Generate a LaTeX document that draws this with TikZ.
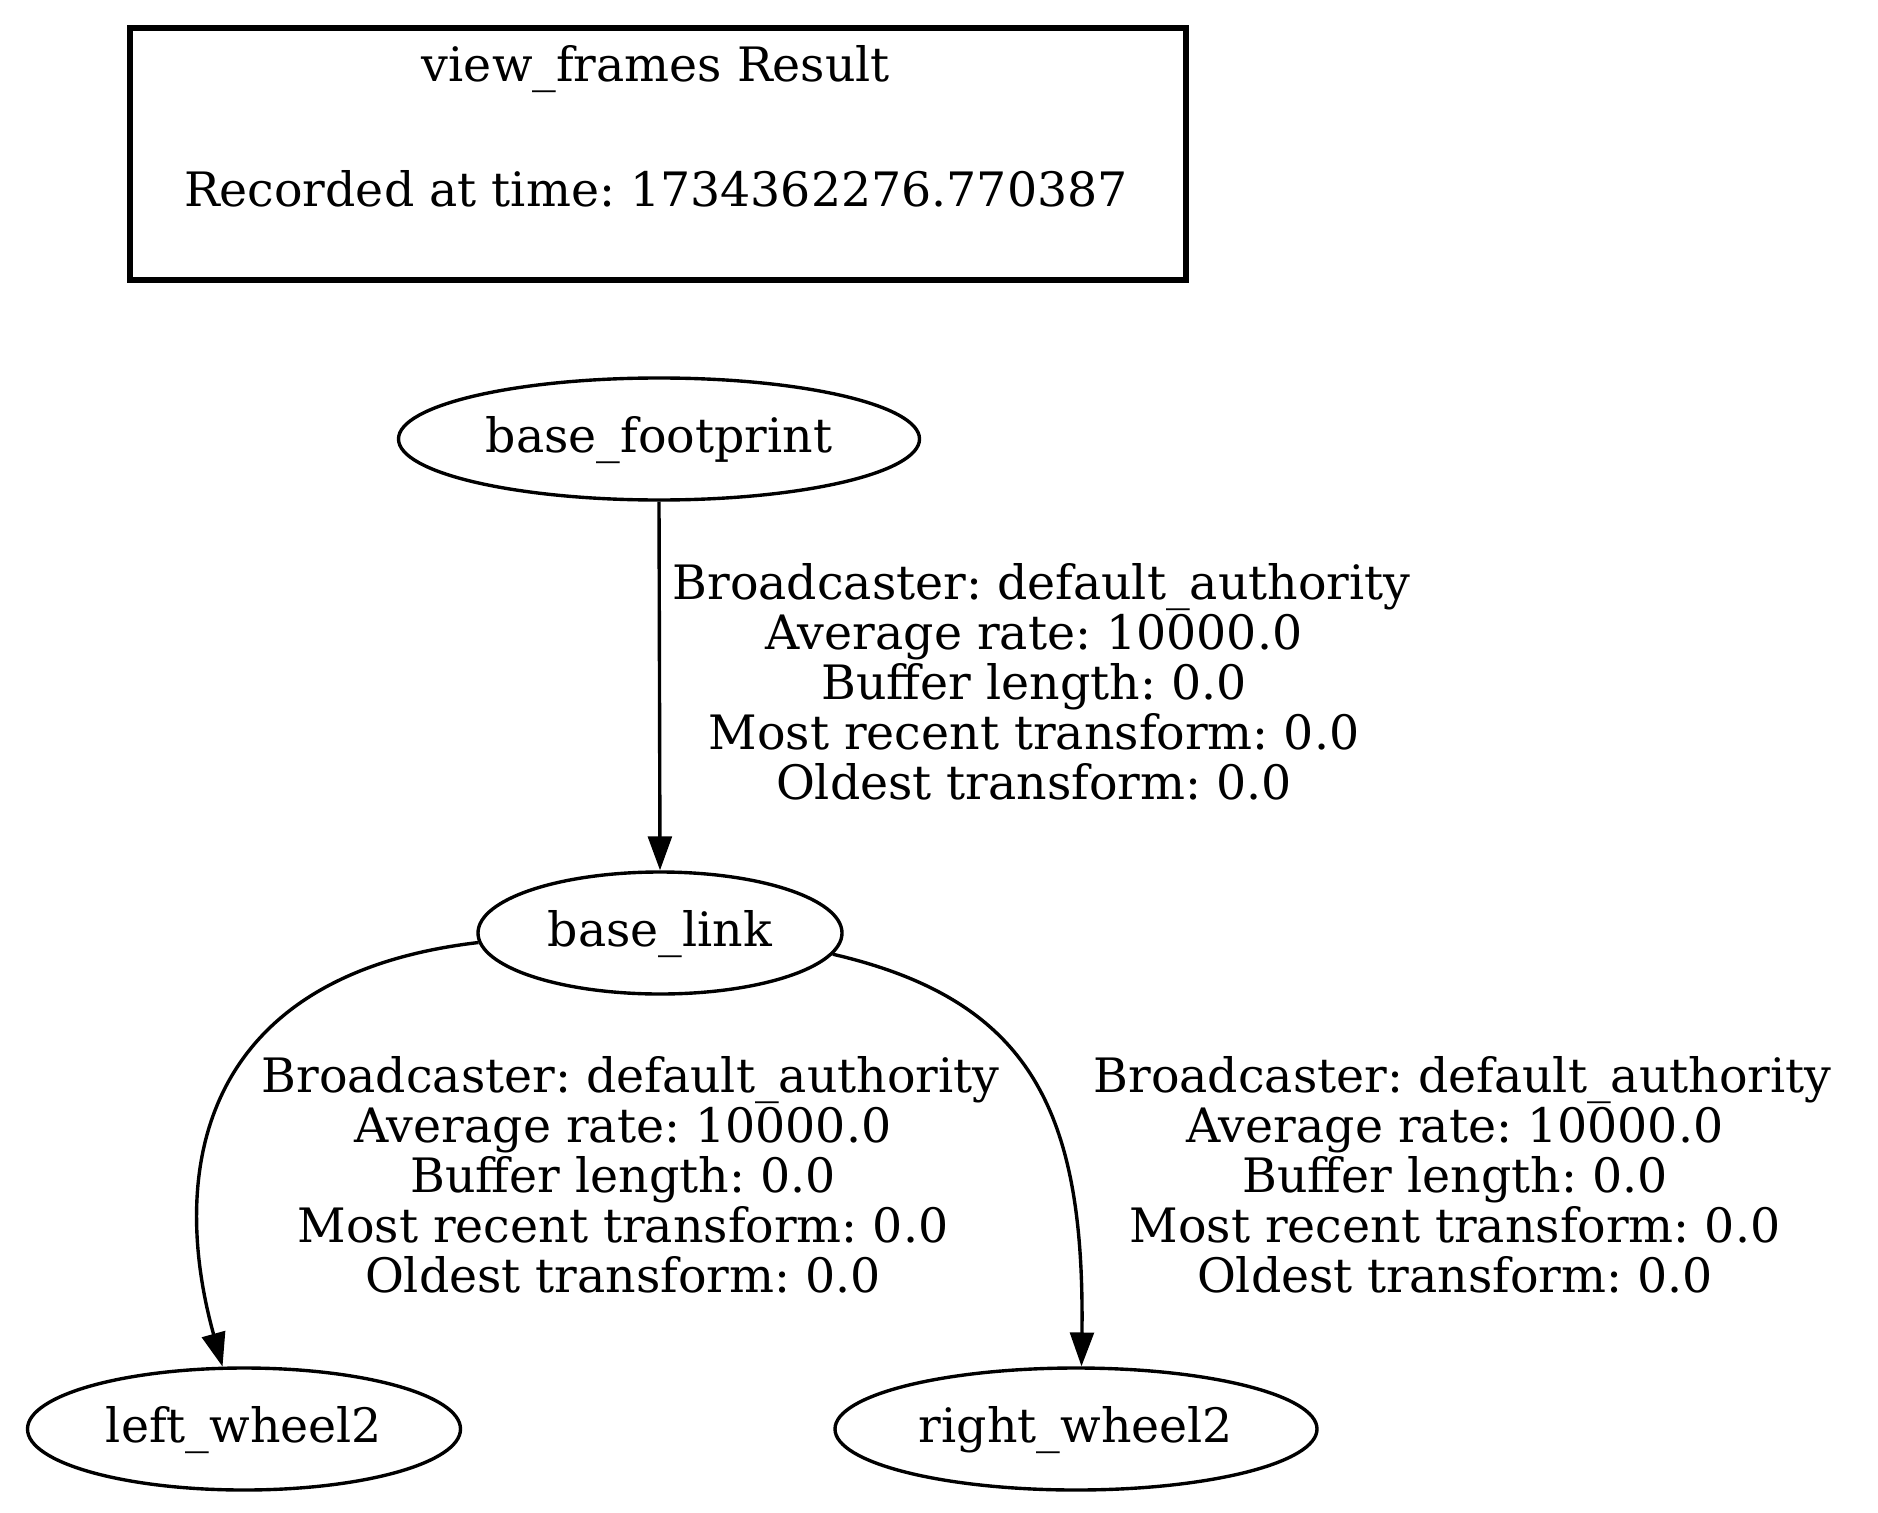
\documentclass[tikz,border=0pt]{standalone}
\usepackage{fontspec}
\setmainfont{DejaVu Serif}
\usetikzlibrary{arrows.meta,shapes.geometric}
\def\pxu{0.29526pt}
\frenchspacing
\begin{document}
\begin{tikzpicture}[x=0.29526pt,y=-0.29526pt,
  every node/.style={font=\frenchspacing\fontsize{14pt}{14.77pt}\selectfont},
  frame/.style={ellipse, draw, line width=1pt, inner sep=0pt, minimum height=122*\pxu, text height=10.6pt, text depth=2.6pt},
  edgelabel/.style={align=center, inner sep=0pt, anchor=north},
  tfedge/.style={draw, line width=1pt, -{Triangle[length=10pt,width=7pt]}},
]
\useasboundingbox (0,0) rectangle (1878,1512);
\node (legend) [draw, line width=2pt, minimum width=1056*\pxu, minimum height=252*\pxu, inner sep=0pt] at (658,154) {};
\node (title) [anchor=base] at (656,82) {view\_frames Result};
\node (rec) [anchor=base] at (656,207) {Recorded at time: 1734362276.770387};
\node (bf) [frame, minimum width=521*\pxu] at (659,439) {base\_footprint};
\node (bl) [frame, minimum width=364*\pxu] at (660,933) {base\_link};
\node (lw) [frame, minimum width=433*\pxu] at (244,1429) {left\_wheel2};
\node (rw) [frame, minimum width=482*\pxu] at (1076,1429) {right\_wheel2};
\draw[tfedge] (bf.south) -- (bl.north);
\draw[tfedge] (bl.183) .. controls (200,975) and (168,1170) .. (lw.109);
\draw[tfedge] (bl.353) .. controls (1030,1000) and (1085,1110) .. (rw.85);
\node (lab1) [edgelabel] at (1034,563) {\mbox{\ }Broadcaster: default\_authority\\Average rate: 10000.0\\Buffer length: 0.0\\Most recent transform: 0.0\\Oldest transform: 0.0};
\node (lab2) [edgelabel] at (623,1056) {\mbox{\ }Broadcaster: default\_authority\\Average rate: 10000.0\\Buffer length: 0.0\\Most recent transform: 0.0\\Oldest transform: 0.0};
\node (lab3) [edgelabel] at (1455,1056) {\mbox{\ }Broadcaster: default\_authority\\Average rate: 10000.0\\Buffer length: 0.0\\Most recent transform: 0.0\\Oldest transform: 0.0};
\end{tikzpicture}
\end{document}
